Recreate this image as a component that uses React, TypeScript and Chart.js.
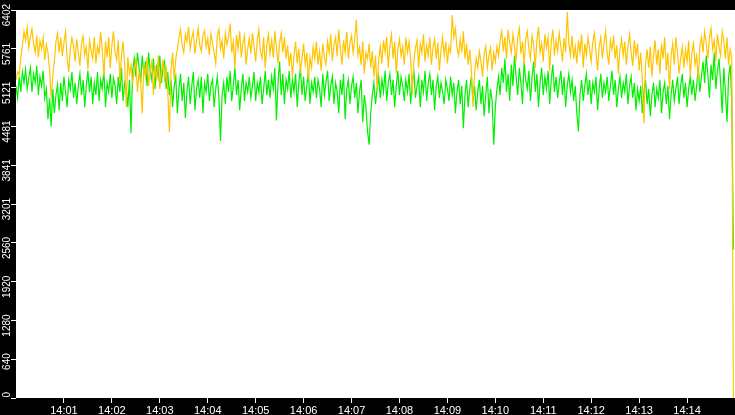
import { useEffect, useRef } from 'react';
import Chart from 'chart.js/auto';

// one sample every 2 seconds, starting at 14:00:00
const STEP_SECONDS = 2;
const RANGE_SECONDS = 900;

const TIME_TICKS = [60, 120, 180, 240, 300, 360, 420, 480, 540, 600, 660, 720, 780, 840];
const TIME_LABELS = [
  '14:01', '14:02', '14:03', '14:04', '14:05', '14:06', '14:07',
  '14:08', '14:09', '14:10', '14:11', '14:12', '14:13', '14:14'
];
const VALUE_TICKS = [0, 640, 1280, 1920, 2560, 3201, 3841, 4481, 5121, 5761, 6402];

const YELLOW_SERIES = [
  5250, 5380, 5330, 5600, 5820, 6050, 5900, 6110, 5780, 5960,
  6090, 5850, 5700, 5980, 5620, 5900, 5760, 5950, 5580, 5830,
  5700, 5420, 4950, 5300, 5550, 5880, 6020, 5700, 5950, 5640,
  5870, 6050, 5600, 5380, 5760, 5940, 5810, 5550, 5920, 5700,
  5480, 5850, 5970, 5660, 5790, 5420, 5900, 5740, 5600, 5960,
  5520, 5800, 5680, 6040, 5750, 5300, 5880, 5620, 5950, 5440,
  5820, 6050, 5700, 5580, 5900, 5200, 5650, 5880, 5500, 4800,
  5620, 5350, 5500, 5180, 5420, 5600, 5050, 5380, 5250, 4700,
  5500, 5300, 5620, 5150, 5400, 5550, 5000, 5450, 5280, 5650,
  5100, 5350, 5580, 5220, 5480, 5050, 4380, 5400, 5700, 5250,
  5600, 5750, 5950, 6080, 5820, 5700, 6000, 5880, 6120, 5760,
  5940, 6050, 5680, 5900, 6100, 5820, 5720, 5980, 6060, 5790,
  5930, 5660, 6010, 5850, 5700, 5520, 5980, 6080, 5750, 5900,
  5600, 6020, 5830, 5950, 6180, 5700, 5880, 5450, 5990, 5760,
  6050, 5620, 5850, 5980, 5500, 5760, 5930, 5680, 6020, 5800,
  5550, 5900, 6080, 5720, 5600, 5950, 5440, 5830, 6000, 5680,
  5900, 5620, 6050, 5780, 5520, 5860, 6020, 5700, 5950, 5600,
  5820, 5480, 5700, 5300, 5650, 5880, 5520, 5760, 5400, 5600,
  5850, 5500, 5700, 5250, 5620, 5450, 5800, 5600, 5880, 5500,
  5720, 5400, 5850, 5620, 5500, 5880, 5700, 6000, 5560, 5820,
  5950, 5640, 6080, 5780, 5500, 5900, 5700, 6040, 5600, 5860,
  5980, 5700, 5920, 6240, 5650, 5780, 5500, 5880, 5350, 5700,
  5600, 5850, 5450, 5720, 5300, 5650, 5100, 5580, 5800, 5520,
  5900, 5700, 5960, 5450, 5820, 6000, 5600, 5880, 5350, 5760,
  5920, 5640, 5800, 5500, 5950, 5700, 5880, 5600, 5000, 5550,
  5780, 5900, 5450, 5850, 5700, 6000, 5550, 5820, 5650, 5950,
  5500, 5780, 5920, 5600, 5860, 5400, 5740, 5950, 5650, 5880,
  5520, 5800, 5700, 6320, 5950, 6100, 5780, 5650, 5920, 5700,
  6050, 5600, 5850, 5500, 5750, 5400, 4800, 5350, 5600, 5450,
  5720, 5550, 5300, 5680, 5800, 5450, 5650, 5780, 5400, 5700,
  5550, 5800, 5650, 5900, 6050, 5720, 5960, 5600, 6080, 5850,
  5700, 6000, 5800, 5550, 5950, 6100, 5680, 5880, 5500, 5920,
  6050, 5750, 5600, 5980, 5820, 5450, 5900, 6120, 5700, 5850,
  5550, 6000, 5780, 5950, 5400, 5870, 6080, 5650, 5900, 5720,
  6020, 5800, 5550, 5940, 5700, 6370, 5850, 5650, 5980, 5600,
  5800, 5520, 5900, 5700, 6000, 5450, 5850, 5650, 5950, 5750,
  5550, 5880, 6020, 5700, 5400, 5800, 5950, 5600, 5850, 6050,
  5700, 5500, 5900, 5750, 5980, 5600, 5820, 5350, 5750, 5920,
  5650, 5880, 5500, 5800, 6000, 5700, 5480, 5900, 5650, 5850,
  5400, 5700, 5250, 4530, 5500, 5750, 5450, 5800, 5300, 5650,
  5900, 5500, 5750, 5350, 5850, 5600, 5950, 5400, 5700, 5100,
  5650, 5850, 5500, 5950, 5700, 5350, 5600, 5800, 5450, 5750,
  5550, 5900, 5300, 5700, 5850, 5500, 5650, 5250, 5800, 5950,
  5700, 6050, 5850, 5600, 5950, 6100, 5750, 5900, 5550, 6000,
  5800, 5650, 6050, 5900, 5600, 5950, 5500, 5750, 5600, 0
];

const GREEN_SERIES = [
  5150, 4950, 5300, 5050, 5380, 5200, 5420, 5100, 5280, 5450,
  5050, 5350, 5200, 5480, 5000, 5300, 5150, 5400, 4950, 5100,
  4600, 4950, 4480, 5100, 4700, 5000, 5170, 4750, 5200, 4900,
  5300, 5050, 4800, 5250, 5100, 5380, 4950, 5200, 4850, 5150,
  5350, 5000, 5250, 4800, 5150, 5400, 5050, 5300, 4850, 5200,
  5000, 5380, 4900, 5250, 5100, 5420, 4800, 5200, 5050, 5350,
  4950, 5280, 5150, 4850, 5300, 5050, 5450, 4900, 5200, 5100,
  4800, 5250, 4370, 5400, 5600, 5300, 5700, 5450, 5200, 5650,
  5350, 5550, 5150, 5700, 5400, 5250, 5600, 5100, 5500, 5300,
  5650, 5200, 5450, 5550, 5100, 5380, 5000, 5250, 4800, 5150,
  5300, 4700, 5100, 5350, 4900, 5200, 4620, 5050, 5300, 4850,
  5150, 5380, 4750, 5100, 5250, 4950, 5300, 4700, 5200, 5050,
  5350, 4900, 5150, 5250, 4800, 5100, 5300, 4950, 4240, 5000,
  5200, 4850, 5300, 5050, 5400, 4900, 5150, 5450, 5000, 5250,
  4750, 5100, 5350, 4900, 5200, 5050, 5300, 4950, 5150, 5380,
  4900, 5200, 5050, 5300, 4850, 5100, 5400, 5000, 5250, 4950,
  5300, 5100, 5450, 4580, 5200, 5550, 5000, 5350, 4850, 5250,
  5100, 5400, 4950, 5250, 5050, 5350, 4800, 5200, 5450, 5000,
  5300, 4900, 5150, 5380, 4850, 5200, 5050, 5300, 4950, 5250,
  5100, 4800, 5350, 5000, 5200, 5400, 4900, 5150, 5300, 4850,
  5200, 5050, 4700, 5250, 5000, 5350, 4600, 5100, 5250, 4850,
  5150, 5300, 4950, 5200, 4700, 5050, 5250, 4550, 5000, 4800,
  4400, 4180, 4700, 5000, 5200, 4850, 5100, 5300, 4950, 5250,
  5050, 5400, 4900, 5200, 5350, 5000, 5250, 4800, 5150, 5400,
  5000, 5300, 5150, 4900, 5250, 5050, 5350, 4850, 5200, 5420,
  4950, 5150, 5300, 4800, 5250, 5050, 5400, 4900, 5200, 5350,
  5000, 5250, 4750, 5150, 5300, 4950, 5200, 5050, 4850, 5250,
  5100, 4900, 5300, 5000, 5200, 4700, 5050, 5250, 4850, 5150,
  4450, 5000, 5250, 4800, 5100, 5300, 4900, 5150, 4750, 5050,
  5250, 4850, 5150, 4650, 5000, 5300, 4700, 5100, 4900, 4180,
  4800, 5100, 5300, 5000, 5450, 5200, 5600, 5050, 5350, 4900,
  5500, 5150, 5650, 5300, 5000, 5450, 5200, 4850, 5550, 5250,
  5100, 5400, 4900, 5300, 5550, 5050, 5350, 4800, 5200, 5450,
  5000, 5300, 5100, 5400, 4850, 5250, 5500, 5050, 5300, 4950,
  5200, 5400, 5000, 5300, 4800, 5150, 5350, 5050, 5250, 4900,
  5150, 4700, 4400, 5000, 5250, 4900, 5150, 5350, 5000, 5250,
  4850, 5200, 5050, 5300, 4750, 5100, 5350, 4950, 5200, 5050,
  5300, 4900, 5150, 5400, 5000, 5250, 4800, 5100, 5300, 4950,
  5200, 5050, 5350, 4850, 5150, 5300, 4950, 5200, 4750, 5100,
  4900, 5150, 4700, 5050, 5250, 4850, 5100, 4650, 5000, 5200,
  4800, 5100, 4950, 5250, 4700, 5050, 5200, 4850, 5150, 4600,
  5000, 5250, 4900, 5100, 5300, 4850, 5150, 5350, 4950, 5200,
  4800, 5100, 5300, 5000, 5250, 4900, 5150, 5450, 5050, 5300,
  5550, 5200, 5650, 5350, 4950, 5500, 5250, 5700, 5100, 5400,
  5600, 5200, 4700, 5450, 5050, 4550, 5300, 5500, 4900, 2450
];

const toPoints = (values: number[]) =>
  values.map((v, i) => ({ x: i * STEP_SECONDS, y: v }));

// black frame around a white plotting area
const panelBackground = {
  id: 'panelBackground',
  beforeDraw(chart: any) {
    const { ctx, chartArea, width, height } = chart;
    ctx.save();
    ctx.fillStyle = '#000000';
    ctx.fillRect(0, 0, width, height);
    ctx.fillStyle = '#ffffff';
    ctx.fillRect(
      chartArea.left,
      chartArea.top,
      chartArea.right - chartArea.left,
      chartArea.bottom - chartArea.top
    );
    ctx.restore();
  }
};

function TrafficChart() {
  const canvasRef = useRef<HTMLCanvasElement | null>(null);
  const chartRef = useRef<Chart | null>(null);

  useEffect(() => {
    if (!canvasRef.current) return;
    if (chartRef.current) chartRef.current.destroy();

    const tickFont = { family: "'Liberation Sans', sans-serif", size: 11 };

    chartRef.current = new Chart(canvasRef.current, {
      type: 'line',
      data: {
        datasets: [
          {
            label: 'yellow',
            data: toPoints(YELLOW_SERIES),
            borderColor: '#ffc400',
            borderWidth: 1.2,
            pointRadius: 0,
            tension: 0
          },
          {
            label: 'green',
            data: toPoints(GREEN_SERIES),
            borderColor: '#00f000',
            borderWidth: 1.2,
            pointRadius: 0,
            tension: 0
          }
        ]
      },
      options: {
        animation: false,
        responsive: false,
        maintainAspectRatio: false,
        events: [],
        layout: { padding: 0, autoPadding: false },
        plugins: {
          legend: { display: false },
          tooltip: { enabled: false },
          title: { display: false }
        },
        scales: {
          x: {
            type: 'linear',
            min: 0,
            max: RANGE_SECONDS,
            afterBuildTicks: (scale: any) => {
              scale.ticks = TIME_TICKS.map((value) => ({ value }));
            },
            afterFit: (scale: any) => {
              scale.height = 17;
            },
            border: { display: false },
            grid: { drawOnChartArea: false, color: '#ffffff', tickLength: 5 },
            ticks: {
              color: '#ffffff',
              font: tickFont,
              padding: 1,
              maxRotation: 0,
              autoSkip: false,
              callback: (value: any) => TIME_LABELS[TIME_TICKS.indexOf(Number(value))]
            }
          },
          y: {
            min: 0,
            max: 6402,
            afterBuildTicks: (scale: any) => {
              scale.ticks = VALUE_TICKS.map((value) => ({ value }));
            },
            afterFit: (scale: any) => {
              scale.width = 16;
            },
            border: { display: false },
            grid: { drawOnChartArea: false, color: '#ffffff', tickLength: 5 },
            ticks: {
              color: '#ffffff',
              font: { ...tickFont, size: 10 },
              padding: 4,
              minRotation: 90,
              maxRotation: 90,
              labelOffset: -6,
              autoSkip: false,
              callback: (value: any) => String(value)
            }
          }
        }
      },
      plugins: [panelBackground]
    });

    return () => {
      if (chartRef.current) {
        chartRef.current.destroy();
        chartRef.current = null;
      }
    };
  }, []);

  return (
    <div style={{ position: 'fixed', left: 0, top: 0, width: 735, height: 415 }}>
      <canvas ref={canvasRef} width={735} height={415} />
    </div>
  );
}

export default function App() {
  return <TrafficChart />;
}
